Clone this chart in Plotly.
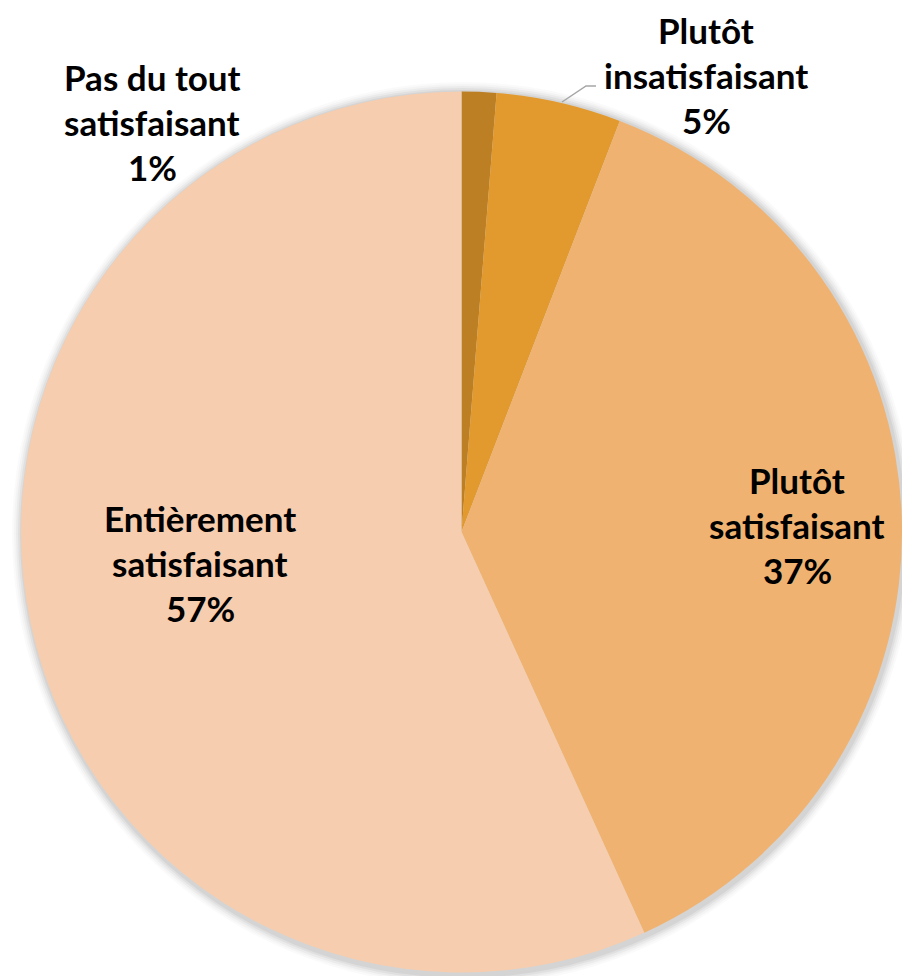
import plotly.graph_objects as go

labels = ["Pas du tout satisfaisant", "Plutôt insatisfaisant", "Plutôt satisfaisant", "Entièrement satisfaisant"]
label_lines = [["Pas du tout", "satisfaisant"], ["Plutôt", "insatisfaisant"], ["Plutôt", "satisfaisant"], ["Entièrement", "satisfaisant"]]
values = [1.27, 4.58, 37.34, 56.81]
colors = ["#BD7F24", "#E2992D", "#F0B270", "#F6CDAE"]

W, H = 902, 976
cx, cy, r = 462, 532, 441

def px(x):
    return x / W

def py(y):
    return 1 - y / H

fig = go.Figure()
fig.add_trace(go.Pie(
    labels=labels, values=values, sort=False, direction="clockwise", rotation=0,
    marker=dict(colors=colors, line=dict(width=0)),
    textinfo="none", hoverinfo="label+percent", showlegend=False,
    domain=dict(x=[px(cx - r), 1.0], y=[py(cy + r), py(cy - r)]),
))

# soft shadow around the pie
shapes = []
for d, op in [(10, 0.02), (8, 0.025), (6, 0.035), (4, 0.045), (2, 0.05)]:
    shapes.append(dict(type="circle", xref="paper", yref="paper", layer="below",
                       x0=px(cx - r - d + 1), x1=px(cx + r + d + 1),
                       y0=py(cy + r + d + 3), y1=py(cy - r - d + 1),
                       fillcolor=f"rgba(0,0,0,{op})", line=dict(width=0)))
# leader line for the 5% label
shapes.append(dict(type="path", xref="paper", yref="paper",
                   path=f"M {px(562)},{py(102)} L {px(586)},{py(86)} L {px(596)},{py(86)}",
                   line=dict(color="#A6A6A6", width=1.5)))

# label anchor (centre x, first-line y) for each slice
label_pos = [(152, 77), (706, 30), (797, 480), (200, 518)]
line_gap = 45
annotations = []
total = sum(values)
for lines, v, (x, y) in zip(label_lines, values, label_pos):
    texts = lines + [f"{round(100 * v / total)}%"]
    for k, t in enumerate(texts):
        annotations.append(dict(x=px(x), y=py(y + k * line_gap), xref="paper", yref="paper",
                                text=f"<b>{t}</b>", showarrow=False, xanchor="center", yanchor="middle",
                                font=dict(family="Lato", size=35, color="#000000")))

fig.update_layout(width=W, height=H, margin=dict(l=0, r=0, t=0, b=0),
                  paper_bgcolor="white", plot_bgcolor="white",
                  shapes=shapes, annotations=annotations)
fig.write_html("out.html", config={"displayModeBar": False},
               post_script="document.body.style.margin='0';")
